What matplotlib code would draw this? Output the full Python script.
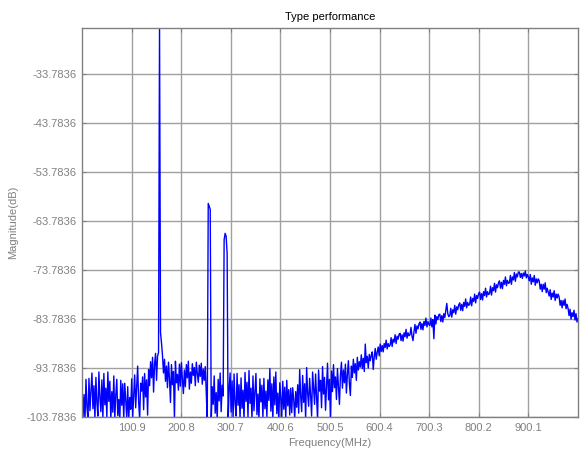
import numpy as np
import matplotlib
matplotlib.use("Agg")
import matplotlib.pyplot as plt

# ---- data ----
f_start, f_stop = 1.0, 1000.0          # MHz, sweep limits
magnitude_db = [
    # 1 - 19 MHz
    -97.8, -103.9, -99.2, -104.5, -96.1, -101.8, -104.2, -95.9, -102.5, -98.4,
    # 21 - 39
    -94.8, -102.1, -97.4, -104.3, -95.7, -100.9, -103.6, -94.6, -99.8, -102.7,
    # 41 - 59
    -96.2, -104.1, -94.9, -101.3, -97.9, -103.8, -94.6, -100.6, -96.5, -104.4,
    # 61 - 79
    -98.6, -102.8, -95.4, -104.2, -99.3, -96.1, -103.5, -100.2, -104.6, -96.3,
    # 81 - 99
    -101.4, -97.0, -104.3, -96.9, -100.6, -103.9, -97.6, -104.5, -99.8, -102.2,
    # 101 - 119
    -96.0, -103.7, -99.4, -95.2, -101.9, -97.8, -93.4, -100.7, -104.3, -96.9,
    # 121 - 139
    -98.5, -95.6, -102.3, -94.9, -99.7, -96.2, -103.4, -94.1, -97.4, -92.5,
    # 141 - 155
    -95.8, -91.6, -98.7, -93.0, -90.8, -96.3, -91.4, -90.6,
    # main tone ~157 MHz
    -24.4,
    -86.6, -88.7,
    # 163 - 179
    -91.3, -94.8, -92.0, -96.5, -93.4, -97.8, -92.6, -95.9, -100.8,
    # 181 - 199
    -93.1, -97.2, -94.5, -104.3, -92.4, -96.8, -95.1, -98.3, -93.0, -97.5,
    # 201 - 219
    -92.7, -96.1, -99.0, -94.2, -97.6, -93.1, -95.8, -92.4, -98.1, -94.6,
    # 221 - 239
    -96.9, -92.9, -95.3, -93.7, -97.4, -92.6, -94.9, -96.7, -93.2, -95.5,
    # 241 - 253
    -92.8, -97.1, -94.0, -96.3, -93.5, -98.7, -104.5,
    # second tone ~256 MHz
    -60.2, -60.8, -61.4,
    -104.5,
    # 263 - 285
    -97.6, -101.2, -95.4, -103.0, -98.8, -104.3, -96.1, -100.5, -94.8, -102.7, -97.3, -99.5,
    # third tone ~290 MHz
    -67.6, -66.3, -66.9, -70.4,
    -104.5,
    # 297 - 319
    -98.2, -94.8, -102.8, -96.4, -104.1, -95.0, -100.9, -103.6, -94.9, -101.4, -97.2, -104.3,
    # 321 - 339
    -95.8, -102.0, -98.3, -104.5, -94.7, -100.6, -96.7, -103.8, -94.3, -101.0,
    # 341 - 359
    -97.9, -104.2, -95.4, -102.5, -98.8, -94.9, -103.3, -99.1, -104.4, -96.0,
    # 361 - 379
    -100.7, -97.3, -104.0, -95.9, -102.1, -98.5, -103.7, -96.2, -100.4, -93.9,
    # 381 - 399
    -102.6, -97.0, -104.3, -95.6, -101.3, -94.6, -103.1, -98.9, -104.5, -96.8,
    # 401 - 419
    -99.9, -103.8, -96.5, -102.2, -97.7, -104.1, -96.3, -101.5, -98.2, -103.4,
    # 421 - 437
    -97.9, -102.9, -97.8, -100.3, -104.2, -98.6, -101.8, -97.2, -103.0,
    # 439 - 459
    -94.1, -99.6, -102.7, -95.3, -100.8, -97.0, -104.3, -93.7, -98.9, -101.6, -95.9,
    # 461 - 479
    -99.4, -103.6, -94.6, -97.8, -101.2, -95.0, -99.7, -104.4, -94.2, -98.5,
    # 481 - 499
    -96.3, -101.9, -93.5, -99.1, -95.7, -102.4, -97.6, -92.8, -100.3, -96.1,
    # 501 - 519
    -104.3, -94.4, -98.6, -93.1, -97.8, -95.6, -100.2, -93.9, -97.4, -101.2,
    # 521 - 539
    -95.3, -92.6, -97.9, -94.2, -96.8, -93.0, -98.9, -95.1, -92.3, -97.0,
    # 541 - 559
    -99.4, -93.4, -95.7, -92.0, -94.8, -92.9, -96.3, -91.6, -94.2, -92.5,
    # 561 - 579
    -93.6, -91.1, -93.9, -91.8, -94.5, -88.9, -92.7, -91.4, -93.8, -91.0,
    # 581 - 599
    -92.3, -91.2, -90.5, -94.1, -91.5, -89.8, -92.0, -90.6, -89.5, -91.3,
    # 601 - 619
    -88.9, -90.4, -89.2, -90.5, -88.8, -89.6, -88.1, -89.9, -88.8, -89.4,
    # 621 - 639
    -89.1, -87.6, -89.4, -87.9, -88.5, -87.0, -88.8, -87.3, -87.9, -86.9,
    # 641 - 659
    -86.7, -88.2, -87.0, -88.3, -86.6, -87.4, -85.9, -87.7, -86.6, -87.2,
    # 661 - 679
    -87.0, -85.5, -87.3, -88.2, -86.4, -84.9, -86.7, -85.2, -85.8, -84.8,
    # 681 - 699
    -84.4, -85.9, -84.7, -86.0, -84.3, -85.1, -83.6, -85.4, -84.3, -84.9,
    # 701 - 719
    -85.1, -83.6, -85.4, -83.9, -87.8, -83.0, -84.8, -83.3, -83.9, -82.9,
    # 721 - 739
    -82.8, -84.3, -83.1, -84.4, -82.7, -83.5, -82.0, -80.6, -82.7, -83.3,
    # 741 - 759
    -83.1, -81.6, -83.4, -81.9, -82.5, -81.0, -82.8, -81.3, -81.9, -80.9,
    # 761 - 779
    -80.5, -82.0, -80.8, -82.1, -80.4, -81.2, -79.7, -81.5, -80.4, -81.0,
    # 781 - 799
    -80.8, -79.3, -81.1, -79.6, -80.2, -78.7, -80.5, -79.0, -79.6, -78.6,
    # 801 - 819
    -78.3, -79.8, -78.6, -79.9, -78.2, -79.0, -77.5, -79.3, -78.2, -78.8,
    # 821 - 839
    -78.6, -77.1, -78.9, -77.4, -78.0, -76.5, -78.3, -76.8, -77.4, -76.4,
    # 841 - 859
    -76.0, -77.5, -76.3, -77.6, -75.9, -76.7, -75.2, -77.0, -75.9, -76.5,
    # 861 - 879
    -76.4, -74.9, -76.7, -75.2, -75.8, -74.3, -76.1, -74.6, -75.2, -74.2,
    # 881 - 899
    -74.2, -75.3, -74.5, -75.5, -74.4, -75.0, -74.0, -75.4, -74.7, -75.2,
    # 901 - 919
    -76.0, -74.7, -76.7, -75.4, -76.2, -74.9, -76.9, -75.6, -76.4, -75.6,
    # 921 - 939
    -76.0, -77.7, -76.7, -78.2, -76.7, -77.7, -76.4, -78.4, -77.5, -78.3,
    # 941 - 959
    -79.1, -77.8, -79.8, -78.5, -79.3, -78.0, -80.0, -78.7, -79.5, -78.7,
    # 961 - 979
    -79.3, -81.0, -80.0, -81.5, -80.0, -81.0, -79.7, -81.7, -80.8, -81.6,
    # 981 - 1000
    -83.1, -81.8, -83.8, -82.5, -83.3, -82.0, -84.0, -82.7, -84.4, -83.7,
]
y_min, y_max = -103.7836, -24.4
x_tick_labels = ["100.9", "200.8", "300.7", "400.6", "500.5", "600.4", "700.3", "800.2", "900.1"]
y_tick_labels = ["-103.7836", "-93.7836", "-83.7836", "-73.7836", "-63.7836",
                 "-53.7836", "-43.7836", "-33.7836"]

title = "Type performance"
x_label = "Frequency(MHz)"
y_label = "Magnitude(dB)"

# ---- figure ----
plt.rcParams["font.family"] = ["Liberation Sans", "DejaVu Sans"]
fig = plt.figure(figsize=(5.83, 4.55), dpi=100)
ax = fig.add_axes([82 / 583, 1 - 417 / 455, (578 - 82) / 583, (417 - 28) / 455])

freq = np.linspace(f_start, f_stop, len(magnitude_db))
ax.plot(freq, magnitude_db, color="#0000ff", lw=1.0)

ax.set_xlim(f_start, f_stop)
ax.set_ylim(y_min, y_max)

xt = [float(s) for s in x_tick_labels]
yt = [float(s) for s in y_tick_labels]
ax.set_xticks(xt)
ax.set_xticklabels(x_tick_labels)
ax.set_yticks(yt)
ax.set_yticklabels(y_tick_labels)

gray = "#808080"
ax.grid(True, color="#a0a0a0", lw=1.0, ls="-")
ax.set_axisbelow(True)
for s in ax.spines.values():
    s.set_color(gray)
    s.set_linewidth(1.0)
ax.tick_params(direction="in", length=3, colors=gray, labelsize=8,
               top=True, right=True, pad=4)
for lab in ax.get_xticklabels() + ax.get_yticklabels():
    lab.set_color(gray)

ax.set_title(title, fontsize=8, color="black", pad=6)
ax.set_xlabel(x_label, fontsize=8, color=gray, labelpad=4)
ax.set_ylabel(y_label, fontsize=8, color=gray, labelpad=6)

fig.savefig("out.png", dpi=100)
